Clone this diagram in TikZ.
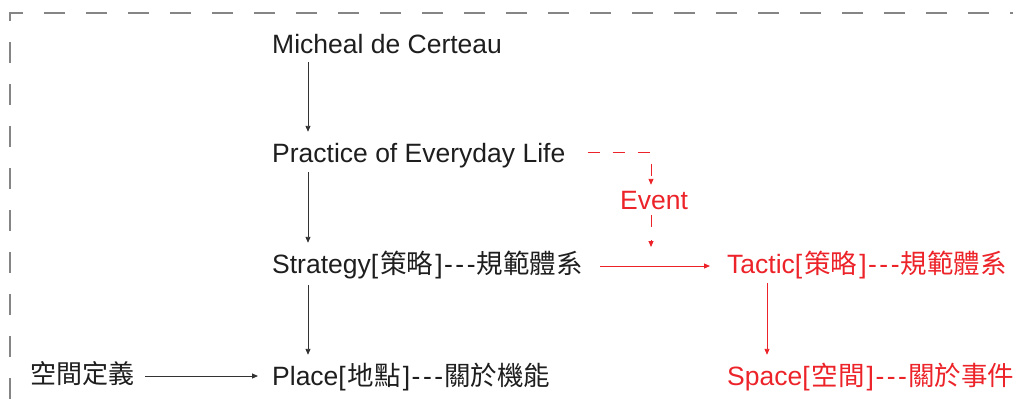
\documentclass[tikz,border=0pt]{standalone}
\usepackage{fontspec}
\setmainfont{Liberation Sans}
\newfontfamily\cjk{Noto Sans CJK TC}
\usetikzlibrary{arrows.meta}
\definecolor{txt}{HTML}{1E1E1E}
\definecolor{ln}{HTML}{333333}
\definecolor{rd}{HTML}{EC2329}
\definecolor{brd}{HTML}{858585}
\newcommand{\brk}[1]{[\kern2pt{\cjk #1}\kern2pt]}
\newcommand{\tdash}{\kern1.5pt-\kern2.5pt-\kern2.5pt-\kern1pt}
\tikzset{
  lbl/.style={inner sep=0pt, text height=20pt, text depth=6pt, anchor=base west, font=\fontsize{26.5pt}{30pt}\selectfont, text=txt},
  rlbl/.style={lbl, text=rd},
  arr/.style={draw=ln, line width=0.9pt, -{Triangle[length=6pt,width=5pt]}},
  rarr/.style={draw=rd, line width=0.9pt, -{Triangle[length=6pt,width=5pt]}},
  rdash/.style={rarr, dash pattern=on 12pt off 13pt},
  frame/.style={draw=brd, line width=1.6pt, dash pattern=on 21pt off 21pt, dash phase=41pt}
}
\begin{document}
\begin{tikzpicture}[x=1pt,y=-1pt]
\useasboundingbox (0,0) rectangle (1013,400);
\draw[frame] (10,400) -- (10,13) -- (1013,13);

\node[lbl] (m) at (272,53) {Micheal de Certeau};
\node[lbl] (p) at (272,162) {Practice of Everyday Life};
\node[lbl] (s) at (272,273) {Strategy\brk{策略}\tdash{\cjk 規範體系}};
\node[lbl] (pl) at (272,385) {Place\brk{地點}\tdash{\cjk 關於機能}};
\node[lbl, font=\fontsize{26pt}{30pt}\selectfont] (d) at (30,383) {\cjk 空間定義};
\node[rlbl, anchor=base] (e) at (654,209) {Event};
\node[rlbl] (t) at (727,273) {Tactic\brk{策略}\tdash{\cjk 規範體系}};
\node[rlbl] (sp) at (727,385) {Space\brk{空間}\tdash{\cjk 關於事件}};

\draw[arr] ([xshift=36pt,yshift=-3pt]m.south west) -- ([xshift=36pt,yshift=10pt]p.north west);
\draw[arr] ([xshift=36pt,yshift=-4pt]p.south west) -- ([xshift=36pt,yshift=10pt]s.north west);
\draw[arr] ([xshift=36pt,yshift=-6pt]s.south west) -- ([xshift=36pt,yshift=10pt]pl.north west);
\draw[arr, shorten <=11pt, shorten >=14pt] (d.east) -- (d.east -| pl.west);

\draw[rarr, shorten <=17pt, shorten >=17pt] (s.east) -- (t.west);
\coordinate (j) at ([xshift=-3pt]e.south |- s.east);
\draw[rdash] ([xshift=22pt,yshift=3pt]p.east) -| ([xshift=-3pt,yshift=4pt]e.north);
\draw[rdash] ([xshift=-3pt]e.south) -- ([yshift=19pt]j);
\draw[rarr] ([xshift=40pt,yshift=-4pt]t.south west) -- ([xshift=40pt,yshift=10pt]sp.north west);
\end{tikzpicture}
\end{document}
